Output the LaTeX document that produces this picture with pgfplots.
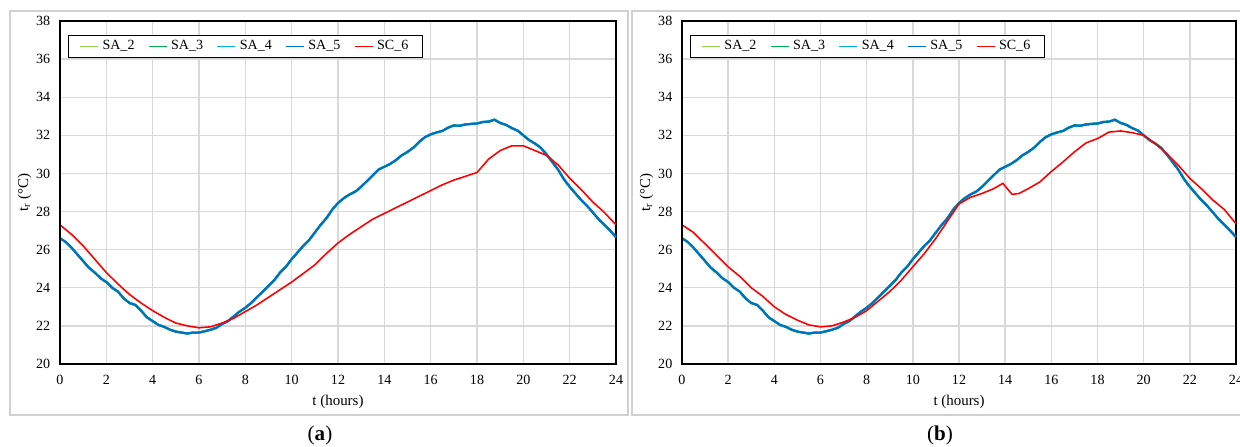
\documentclass[border=0pt]{standalone}
\usepackage{pgfplots}
\pgfplotsset{compat=1.18}
\usepackage{pgfplotstable}
\usepackage{fontspec}
\setmainfont{Liberation Serif}
\definecolor{saA}{HTML}{92D050}
\definecolor{saB}{HTML}{00B050}
\definecolor{saC}{HTML}{00B0F0}
\definecolor{saD}{HTML}{0070C0}
\definecolor{scred}{HTML}{FF0000}
\definecolor{gridgray}{HTML}{D9D9D9}
\definecolor{framegray}{HTML}{D0D0D0}

% SA series (SA_2..SA_5 overlap)
\pgfplotstableread{
t sa
0 26.6
0.25 26.4
0.5 26.1
0.75 25.75
1 25.4
1.25 25.05
1.5 24.8
1.75 24.5
2 24.3
2.25 24.0
2.5 23.8
2.75 23.45
3 23.2
3.25 23.1
3.5 22.8
3.75 22.45
4 22.25
4.25 22.05
4.5 21.95
4.75 21.8
5 21.7
5.25 21.65
5.5 21.6
5.75 21.65
6 21.65
6.25 21.72
6.5 21.8
6.75 21.9
7 22.1
7.25 22.25
7.5 22.5
7.75 22.75
8 22.95
8.25 23.2
8.5 23.5
8.75 23.8
9 24.1
9.25 24.4
9.5 24.8
9.75 25.1
10 25.5
10.25 25.85
10.5 26.2
10.75 26.5
11 26.9
11.25 27.3
11.5 27.65
11.75 28.1
12 28.45
12.25 28.7
12.5 28.9
12.75 29.05
13 29.3
13.25 29.6
13.5 29.9
13.75 30.2
14 30.35
14.25 30.5
14.5 30.7
14.75 30.95
15 31.13
15.25 31.35
15.5 31.65
15.75 31.9
16 32.05
16.25 32.15
16.5 32.23
16.75 32.4
17 32.52
17.25 32.5
17.5 32.57
17.75 32.6
18 32.62
18.25 32.7
18.5 32.72
18.75 32.82
19 32.65
19.25 32.55
19.5 32.38
19.75 32.25
20 32.0
20.25 31.75
20.5 31.57
20.75 31.35
21 31.0
21.25 30.6
21.5 30.2
21.75 29.7
22 29.3
22.25 28.95
22.5 28.6
22.75 28.3
23 27.95
23.25 27.6
23.5 27.3
23.75 27.0
24 26.65
}\sadata

% SC_6, case (a)
\pgfplotstableread{
t sc
0 27.3
0.5 26.8
1 26.2
1.5 25.5
2 24.8
2.5 24.2
3 23.65
3.5 23.2
4 22.8
4.5 22.45
5 22.15
5.5 22.0
6 21.9
6.5 21.95
7 22.15
7.5 22.4
8 22.75
8.5 23.1
9 23.5
9.5 23.9
10 24.3
10.5 24.75
11 25.2
11.5 25.8
12 26.35
12.5 26.8
13 27.2
13.5 27.6
14 27.9
14.5 28.2
15 28.5
15.5 28.8
16 29.1
16.5 29.4
17 29.65
17.5 29.85
18 30.05
18.5 30.75
19 31.2
19.5 31.45
20 31.45
20.5 31.2
21 30.95
21.5 30.45
22 29.75
22.5 29.15
23 28.5
23.5 27.95
24 27.3
}\scadata

% SC_6, case (b)
\pgfplotstableread{
t sc
0 27.3
0.5 26.9
1 26.3
1.5 25.7
2 25.1
2.5 24.6
3 24.0
3.5 23.55
4 23.0
4.5 22.6
5 22.3
5.5 22.05
6 21.95
6.5 22.0
7 22.2
7.5 22.45
8 22.8
8.5 23.3
9 23.8
9.5 24.4
10 25.1
10.5 25.8
11 26.6
11.5 27.5
12 28.4
12.5 28.75
13 28.95
13.5 29.2
13.9 29.48
14.3 28.9
14.6 28.95
15 29.2
15.5 29.55
16 30.1
16.5 30.6
17 31.13
17.5 31.6
18 31.83
18.5 32.17
19 32.23
19.5 32.14
20 32.0
20.5 31.57
21 31.04
21.5 30.43
22 29.74
22.5 29.2
23 28.6
23.5 28.1
24 27.36
}\scbdata

\pgfplotsset{
  panel/.style={
    scale only axis, width=11.1cm, height=6.86cm,
    xmin=0, xmax=24, ymin=20, ymax=38,
    xtick={0,2,...,24}, ytick={20,22,...,38},
    grid=major, major grid style={gridgray, line width=0.8pt},
    major tick length=0pt,
    axis line style={black, line width=0.6pt},
    tick label style={font=\fontsize{8}{9}\selectfont},
    /pgf/number format/assume math mode=true,
    xticklabel style={yshift=-3pt},
    yticklabel style={xshift=-2pt},
    xlabel={t (hours)}, xlabel style={font=\fontsize{8.5}{10}\selectfont, yshift=1pt},
    ylabel={t\textsubscript{r} (°C)}, ylabel style={font=\fontsize{8.5}{10}\selectfont, yshift=-4pt},
    legend columns=5,
    legend style={at={(rel axis cs:0.015,0.96)}, anchor=north west,
      draw=black, line width=0.6pt, font=\fontsize{8}{9}\selectfont,
      inner ysep=1pt, inner xsep=6pt,
      /tikz/every even column/.append style={column sep=0.2cm}},
    legend image code/.code={\draw[#1, line width=0.9pt] (0cm,0cm) -- (0.36cm,0cm);},
    after end axis/.code={
      \draw[black, line width=1.2pt] (rel axis cs:0,1) -- (rel axis cs:0,0) -- (rel axis cs:1,0);
    },
  },
}

\begin{document}
\begin{tikzpicture}
\useasboundingbox (0,0) rectangle (24.8,8.92);
\draw[framegray, line width=0.6pt] (0.2,0.62) rectangle (12.56,8.7);
\draw[framegray, line width=0.6pt] (12.64,0.62) rectangle (25.0,8.7);

\begin{axis}[panel, at={(1.2cm,1.64cm)}, anchor=south west, width=11.12cm]
\addplot[saA, line width=1.2pt] table[x=t, y=sa] {\sadata};
\addplot[saB, line width=1.2pt] table[x=t, y=sa] {\sadata};
\addplot[saC, line width=1.2pt] table[x=t, y=sa] {\sadata};
\addplot[saD, line width=1.2pt] table[x=t, y=sa] {\sadata};
\addplot[scred, line width=0.9pt] table[x=t, y=sc] {\scadata};
\legend{SA\_2,SA\_3,SA\_4,SA\_5,SC\_6}
\end{axis}
\node[font=\fontsize{12}{14}\selectfont] at (6.4,0.22) {(\textbf{a})};

\begin{axis}[panel, at={(13.64cm,1.64cm)}, anchor=south west, width=11.08cm]
\addplot[saA, line width=1.2pt] table[x=t, y=sa] {\sadata};
\addplot[saB, line width=1.2pt] table[x=t, y=sa] {\sadata};
\addplot[saC, line width=1.2pt] table[x=t, y=sa] {\sadata};
\addplot[saD, line width=1.2pt] table[x=t, y=sa] {\sadata};
\addplot[scred, line width=0.9pt] table[x=t, y=sc] {\scbdata};
\legend{SA\_2,SA\_3,SA\_4,SA\_5,SC\_6}
\end{axis}
\node[font=\fontsize{12}{14}\selectfont] at (18.8,0.22) {(\textbf{b})};
\end{tikzpicture}
\end{document}
